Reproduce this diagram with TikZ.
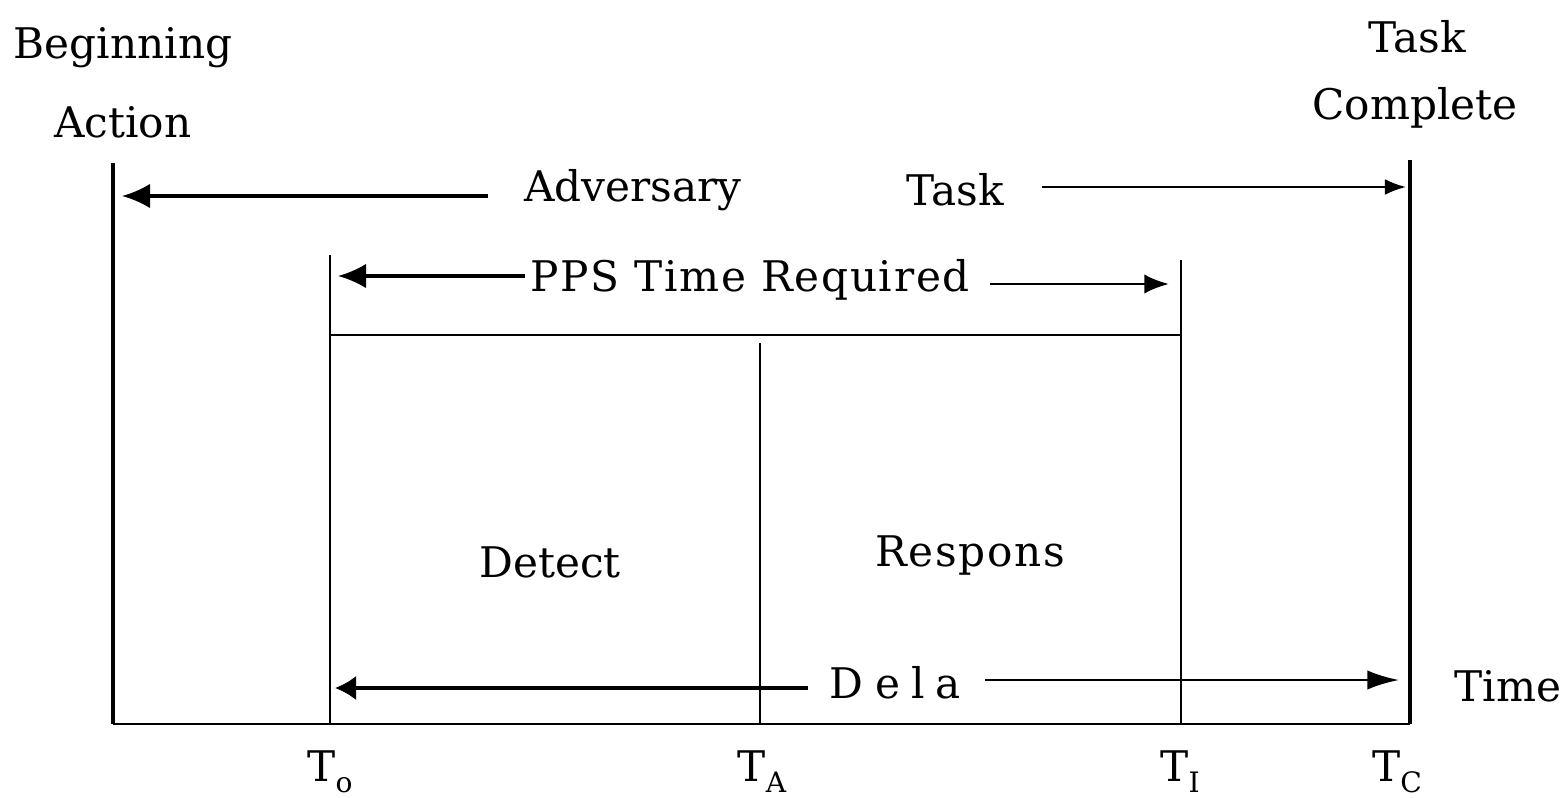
\documentclass[tikz,border=0pt]{standalone}
\usepackage{fontspec}
\setmainfont{DejaVu Serif}
\newfontfamily\spacedserif[LetterSpace=4]{DejaVu Serif}
\usetikzlibrary{arrows.meta}
\newcommand{\tsub}[2]{#1\raisebox{-0.5ex}{\footnotesize #2}}
\tikzset{
  lbl/.style={inner sep=0pt, font=\fontsize{12}{14}\selectfont},
  frame/.style={line width=1.2pt},
  divider/.style={line width=0.6pt},
  bigarrow/.style={line width=0.9pt, -{Latex[length=8pt,width=7pt]}},
  thinarrow/.style={line width=0.6pt, -{Latex[length=6pt,width=4.5pt]}},
}
\begin{document}
\begin{tikzpicture}[x=0.01cm,y=-0.01cm]
\useasboundingbox (0,0) rectangle (1567,797);

% frame posts and the time axis
\coordinate (Ltop) at (113,163);
\coordinate (Lbot) at (113,724);
\coordinate (Rtop) at (1410,160);
\coordinate (Rbot) at (1410,724);
\draw[frame] (Ltop) -- (Lbot);
\draw[frame] (Rtop) -- (Rbot);
\draw[line width=0.7pt] (Lbot) -- (Rbot);

% interval markers
\coordinate (Otop) at (330,255);
\coordinate (Obot) at (330,723);
\coordinate (Atop) at (760,343);
\coordinate (Abot) at (760,723);
\coordinate (Itop) at (1181,260);
\coordinate (Ibot) at (1181,723);
\coordinate (Hl) at (330,335);
\coordinate (Hr) at (1181,335);
\draw[divider] (Otop) -- (Obot);
\draw[divider] (Atop) -- (Abot);
\draw[divider] (Itop) -- (Ibot);
\draw[divider] (Hl) -- (Hr);

% top labels
\node[lbl] (begin) at (123,48) {Beginning};
\node[lbl] (action) at (123,122) {Action};
\node[lbl] (task1) at (1417,37) {Task};
\node[lbl] (complete) at (1415,108) {Complete};

% adversary task span
\node[lbl] (adv) at (633,190) {Adversary};
\node[lbl] (task2) at (955,190) {Task};
\coordinate (advL) at (122,196);
\coordinate (advLs) at (488,196);
\coordinate (taskRs) at (1042,187);
\coordinate (taskR) at (1406,187);
\draw[bigarrow] (advLs) -- (advL);
\draw[thinarrow] (taskRs) -- (taskR);

% PPS span
\node[lbl, font=\fontsize{12}{14}\spacedserif] (pps) at (750,280) {PPS Time Required};
\coordinate (ppsL) at (338,276);
\coordinate (ppsLs) at (525,276);
\coordinate (ppsRs) at (990,284);
\coordinate (ppsR) at (1169,284);
\draw[bigarrow] (ppsLs) -- (ppsL);
\draw[line width=0.8pt, -{Latex[length=7pt,width=5.5pt]}] (ppsRs) -- (ppsR);

% phases
\node[lbl] (detect) at (550,562) {Detect};
\node[lbl, font=\fontsize{12}{14}\spacedserif] (resp) at (970,555) {Respons};

% delay span
\node[lbl] (dela) at (895,683) {D\hspace{0.3em}e\hspace{0.25em}l\hspace{0.25em}a};
\coordinate (delL) at (335,688);
\coordinate (delLs) at (808,688);
\coordinate (delRs) at (985,680);
\coordinate (delR) at (1399,680);
\draw[line width=1.0pt, -{Latex[length=6pt,width=7pt]}] (delLs) -- (delL);
\draw[line width=0.8pt, -{Latex[length=9pt,width=5.5pt]}] (delRs) -- (delR);
\node[lbl] (time) at (1508,686) {Time};

% time marks
\node[lbl] (To) at (330,772) {\tsub{T}{o}};
\node[lbl] (TA) at (762,772) {\tsub{T}{A}};
\node[lbl] (TI) at (1180,772) {\tsub{T}{I}};
\node[lbl] (TC) at (1397,772) {\tsub{T}{C}};
\end{tikzpicture}
\end{document}
